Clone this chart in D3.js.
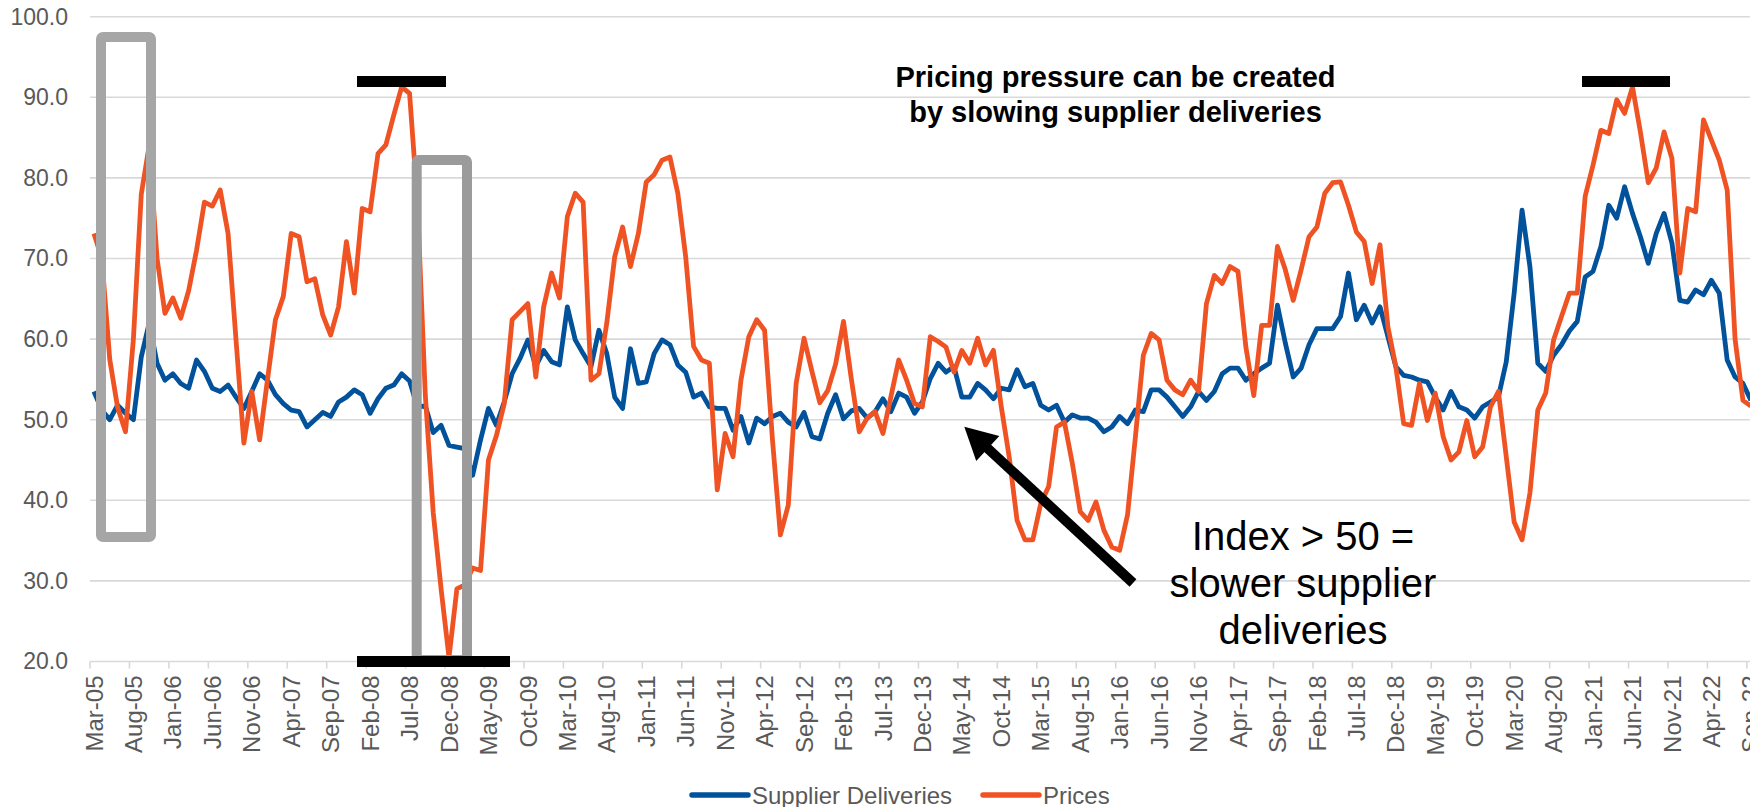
<!DOCTYPE html>
<html>
<head>
<meta charset="utf-8">
<script src="https://cdn.jsdelivr.net/npm/d3@7"></script>
<style>
  body { margin: 0; background: #fff; }
  svg { display: block; font-family: "Liberation Sans", Arial, sans-serif; }
</style>
</head>
<body>
<div id="chart"></div>
<script>
// Monthly categories, Mar-05 .. Sep-22
const months = d3.timeMonth.range(new Date(2005, 2, 1), new Date(2022, 9, 1))
  .map(d3.timeFormat("%b-%y"));

const tickLabels = ["Mar-05","Aug-05","Jan-06","Jun-06","Nov-06","Apr-07","Sep-07","Feb-08",
  "Jul-08","Dec-08","May-09","Oct-09","Mar-10","Aug-10","Jan-11","Jun-11","Nov-11","Apr-12",
  "Sep-12","Feb-13","Jul-13","Dec-13","May-14","Oct-14","Mar-15","Aug-15","Jan-16","Jun-16",
  "Nov-16","Apr-17","Sep-17","Feb-18","Jul-18","Dec-18","May-19","Oct-19","Mar-20","Aug-20",
  "Jan-21","Jun-21","Nov-21","Apr-22","Sep-22"];

const yTicks = [20, 30, 40, 50, 60, 70, 80, 90, 100];

const supplierDeliveries = [
  53.5, 51.2, 50, 51.8, 50.8, 50, 57.8, 62, 57, 54.9,
  55.7, 54.5, 53.9, 57.4, 56, 53.9, 53.5, 54.3, 52.8, 51.4,
  53.5, 55.7, 54.9, 53.1, 52, 51.2, 51, 49.1, 50, 50.9,
  50.4, 52.2, 52.8, 53.7, 53.1, 50.8, 52.6, 53.9, 54.3, 55.7,
  54.8, 51.6, 51.7, 48.4, 49.3, 46.8, 46.6, 46.4, 43.1, 47.5,
  51.4, 49.3, 52.2, 55.7, 57.6, 59.9, 56.6, 58.6, 57.2, 56.8,
  64, 59.9, 58.2, 56.6, 61.1, 58.2, 52.8, 51.4, 58.8, 54.5,
  54.7, 58.2, 59.9, 59.3, 56.8, 55.9, 52.8, 53.3, 51.6, 51.4,
  51.4, 48.7, 50.4, 47.1, 50.2, 49.5, 50.4, 50.8, 49.7, 49.1,
  50.9, 47.9, 47.6, 50.8, 53.1, 50.1, 51.1, 51.4, 50.2, 51,
  52.6, 51, 53.3, 52.8, 50.8, 52.2, 55.1, 57, 55.9, 56.6,
  52.8, 52.8, 54.5, 53.7, 52.6, 53.9, 53.7, 56.2, 54.1, 54.5,
  51.8, 51.2, 51.8, 49.7, 50.6, 50.2, 50.2, 49.7, 48.5, 49.1,
  50.4, 49.5, 51.2, 51, 53.7, 53.7, 52.8, 51.6, 50.4, 51.6,
  53.5, 52.4, 53.5, 55.7, 56.4, 56.4, 54.9, 55.7, 56.4, 57,
  64.2, 59.5, 55.3, 56.4, 59.3, 61.3, 61.3, 61.3, 62.8, 68.2,
  62.4, 64.2, 62, 64, 60.3, 56.6, 55.5, 55.3, 54.9, 54.7,
  52.8, 51.2, 53.5, 51.6, 51.2, 50.2, 51.6, 52.2, 52.8, 57.2,
  65.7, 76, 69, 57, 56, 58, 59.3, 61, 62.2, 67.7,
  68.4, 71.5, 76.6, 75, 78.9, 75.6, 72.7, 69.4, 73.1, 75.6,
  71.9, 64.8, 64.6, 66.1, 65.5, 67.3, 65.7, 57.4, 55.3, 54.5,
  52.4
];

const prices = [
  73.1, 70, 57.5, 51.5, 48.5, 60, 78, 84, 70, 63.2,
  65.1, 62.6, 66, 71, 77, 76.5, 78.5, 73.1, 60, 47.1,
  53.5, 47.5, 55, 62.4, 65.3, 73.1, 72.7, 67.1, 67.5, 63,
  60.5, 64, 72.1, 65.7, 76.2, 75.8, 83, 84.1, 87.8, 91.3,
  90.5, 77, 53, 38.5, 29, 20.5, 29, 29.5, 31.6, 31.3,
  45, 48, 52, 62.4, 63.4, 64.4, 55.3, 64, 68.2, 65.1,
  75.2, 78.1, 77, 54.9, 55.7, 62, 70.2, 73.9, 69, 73.1,
  79.5, 80.4, 82.2, 82.6, 78.1, 70.2, 59.1, 57.4, 57, 41.3,
  48.3, 45.4, 54.9, 60.3, 62.4, 61.1, 47.5, 35.7, 39.4, 54.5,
  60.1, 56, 52.1, 53.6, 56.9, 62.2, 55, 48.5, 50.2, 51,
  48.3, 52.8, 57.4, 54.9, 52, 51.6, 60.3, 59.7, 59, 55.9,
  58.6, 57, 60.1, 56.8, 58.6, 51.6, 45.4, 37.5, 35.1, 35.1,
  39.6, 41.7, 49.1, 49.7, 44.6, 38.6, 37.5, 39.8, 36.3, 34.2,
  33.8, 38.2, 47.9, 58, 60.7, 59.9, 54.9, 53.7, 53.1, 54.9,
  53.5, 64.4, 67.9, 66.9, 69, 68.4, 59, 53, 61.7, 61.7,
  71.5, 68.6, 64.8, 68.6, 72.7, 73.9, 78.1, 79.4, 79.5, 76.6,
  73.3, 72.1, 66.9, 71.7, 61.5, 56.6, 49.5, 49.3, 54.5, 49.9,
  53.3, 47.9, 45, 46, 49.9, 45.4, 46.6, 51.6, 53.5, 45.4,
  37.3, 35.1, 40.9, 51.2, 53.3, 59.9, 62.8, 65.7, 65.7, 77.7,
  81.6, 85.9, 85.5, 89.7, 88, 91.3, 85.7, 79.4, 81.2, 85.7,
  82.4, 68.2, 76.2, 75.8, 87.2, 84.7, 82.2, 78.5, 60, 52.4,
  51.7
];

const seriesNames = ["Supplier Deliveries", "Prices"];
const seriesColors = ["#01519b", "#f05323"];

const width = 1750;
const height = 807;
const left = 90;
const step = 7.89;

const svg = d3.select("#chart")
  .append("svg")
  .attr("width", width)
  .attr("height", height);

svg.append("rect").attr("width", width).attr("height", height).attr("fill", "#fff");

const x = d3.scaleBand()
  .domain(months)
  .range([left, left + step * months.length]);

const y = d3.scaleLinear()
  .domain([20, 100])
  .range([661.5, 16.7]);

const bw = x.bandwidth();

// gridlines
svg.append("g")
  .selectAll("line")
  .data(yTicks)
  .enter().append("line")
  .attr("x1", left)
  .attr("x2", width)
  .attr("y1", d => y(d))
  .attr("y2", d => y(d))
  .attr("stroke", "#d9d9d9")
  .attr("stroke-width", 1.6);

// y axis labels
const yAxis = svg.append("g")
  .attr("transform", `translate(${left},0)`)
  .call(d3.axisLeft(y).tickValues(yTicks).tickFormat(d3.format(".1f")).tickSize(0).tickPadding(22));
yAxis.select(".domain").remove();
yAxis.selectAll("text")
  .attr("font-size", 23)
  .attr("font-family", "Liberation Sans, Arial, sans-serif")
  .attr("fill", "#595959");

// x axis: tick marks at category boundaries, labels at category centres
svg.append("g")
  .selectAll("line")
  .data(tickLabels)
  .enter().append("line")
  .attr("x1", d => x(d))
  .attr("x2", d => x(d))
  .attr("y1", y(20))
  .attr("y2", y(20) + 7)
  .attr("stroke", "#d9d9d9")
  .attr("stroke-width", 1.6);

const xAxis = svg.append("g")
  .attr("transform", `translate(0,${y(20)})`)
  .call(d3.axisBottom(x).tickValues(tickLabels).tickSize(0));
xAxis.select(".domain").remove();
xAxis.selectAll("text")
  .attr("transform", "rotate(-90)")
  .attr("text-anchor", "end")
  .attr("x", -14)
  .attr("y", 0)
  .attr("dy", "0.36em")
  .attr("font-size", 24)
  .attr("font-family", "Liberation Sans, Arial, sans-serif")
  .attr("fill", "#595959");

// lines
const line = d3.line()
  .x((d, i) => x(months[i]) + bw / 2)
  .y(d => y(d));

[supplierDeliveries, prices].forEach((s, k) => {
  svg.append("path")
    .datum(s)
    .attr("d", line)
    .attr("fill", "none")
    .attr("stroke", seriesColors[k])
    .attr("stroke-width", 4.8)
    .attr("stroke-linejoin", "round");
});

// grey highlight boxes
svg.append("rect")
  .attr("x", 101).attr("y", 37).attr("width", 50).attr("height", 500)
  .attr("rx", 2)
  .attr("fill", "none").attr("stroke", "#a6a6a6").attr("stroke-width", 10)
  .attr("stroke-linejoin", "round");
svg.append("rect")
  .attr("x", 416.7).attr("y", 160).attr("width", 50.3).attr("height", 500)
  .attr("rx", 2)
  .attr("fill", "none").attr("stroke", "#9b9b9b").attr("stroke-width", 10)
  .attr("stroke-linejoin", "round");

// black peak / trough bars
[[357, 76, 89, 11], [357, 656, 153, 11], [1582, 76, 88, 11]].forEach(b => {
  svg.append("rect")
    .attr("x", b[0]).attr("y", b[1]).attr("width", b[2]).attr("height", b[3])
    .attr("fill", "#000");
});

// arrow
const tail = [1133, 583], tip = [964.3, 426.7];
const dx = tip[0] - tail[0], dy = tip[1] - tail[1];
const len = Math.hypot(dx, dy);
const ux = dx / len, uy = dy / len;
const headLen = 32, headHalf = 17;
const base = [tip[0] - ux * headLen, tip[1] - uy * headLen];
svg.append("line")
  .attr("x1", tail[0]).attr("y1", tail[1])
  .attr("x2", base[0] + ux * 2).attr("y2", base[1] + uy * 2)
  .attr("stroke", "#000").attr("stroke-width", 10);
svg.append("polygon")
  .attr("points", [
    tip,
    [base[0] - uy * headHalf, base[1] + ux * headHalf],
    [base[0] + uy * headHalf, base[1] - ux * headHalf]
  ].map(p => p.join(",")).join(" "))
  .attr("fill", "#000");

// annotations
const note1 = svg.append("text")
  .attr("text-anchor", "middle")
  .attr("font-size", 29)
  .attr("font-weight", "bold")
  .attr("fill", "#000");
note1.append("tspan").attr("x", 1115.5).attr("y", 87.3).text("Pricing pressure can be created");
note1.append("tspan").attr("x", 1115.5).attr("y", 121.7).text("by slowing supplier deliveries");

const note2 = svg.append("text")
  .attr("text-anchor", "middle")
  .attr("font-size", 40)
  .attr("fill", "#000");
["Index > 50 =", "slower supplier", "deliveries"].forEach((t, i) => {
  note2.append("tspan").attr("x", 1303).attr("y", 550 + i * 47.2).text(t);
});

// legend
const legendX = [692, 983];
seriesNames.forEach((name, k) => {
  const g = svg.append("g").attr("transform", `translate(${legendX[k]},795)`);
  g.append("line")
    .attr("x1", 0).attr("x2", 56)
    .attr("stroke", seriesColors[k])
    .attr("stroke-width", 5.5)
    .attr("stroke-linecap", "round");
  g.append("text")
    .attr("x", 60)
    .attr("y", 8.5)
    .attr("font-size", 24)
    .attr("fill", "#595959")
    .text(name);
});
</script>
</body>
</html>
